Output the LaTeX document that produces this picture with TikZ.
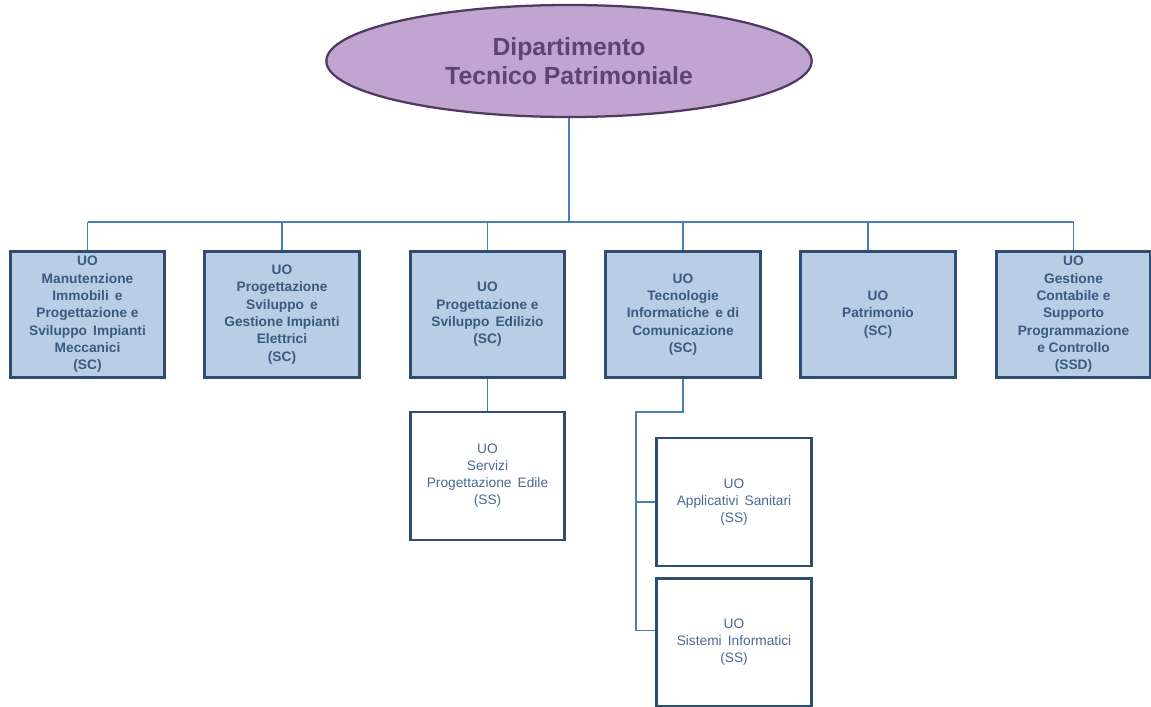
\documentclass[tikz,border=0pt]{standalone}
\usepackage{fontspec}
\setmainfont{Liberation Sans}
\usetikzlibrary{shapes.geometric}

\definecolor{boxfill}{HTML}{B9CDE5}
\definecolor{boxline}{HTML}{2F4D70}
\definecolor{boxtext}{HTML}{3B5A7E}
\definecolor{subtext}{HTML}{4A6A92}
\definecolor{deptfill}{HTML}{C0A5D0}
\definecolor{deptline}{HTML}{4F3A62}
\definecolor{depttext}{HTML}{5A466E}
\definecolor{wire}{HTML}{4A7EBB}

\tikzstyle{dept} = [ellipse, draw=deptline, line width=1.7pt, fill=deptfill, minimum width=364pt, minimum height=84pt, align=center, text=depttext, font=\bfseries\fontsize{18.6}{21.75}\selectfont]
\tikzstyle{box} = [rectangle, draw=boxline, line width=2.2pt, fill=boxfill, minimum width=116pt, minimum height=95pt, inner sep=0pt, align=center, text=boxtext, font=\bfseries\fontsize{10.3}{13}\selectfont]
\tikzstyle{subbox} = [box, fill=white, minimum height=96pt, text=subtext, font=\fontsize{10.3}{12.75}\selectfont]
\tikzstyle{link} = [draw=wire, line width=1.1pt]

\begin{document}
\begin{tikzpicture}[x=0.75pt, y=-0.75pt]
\useasboundingbox (0,0) rectangle (1151,706);

\node[dept] (dtp) at (569,61) {Dipartimento\\Tecnico Patrimoniale};

\node[box] (manut) at (87.5,314.5) {UO\\Manutenzione\\Immobili\, e\\Progettazione e\\Sviluppo\, Impianti\\Meccanici\\(SC)};
\node[box] (elett) at (282,314.5) {UO\\Progettazione\\Sviluppo\, e\\Gestione Impianti\\Elettrici\\(SC)};
\node[box] (edil) at (487.5,314.5) {UO\\Progettazione e\\Sviluppo\, Edilizio\\(SC)};
\node[box] (tic) at (683,314.5) {UO\\Tecnologie\\Informatiche\, e di\\Comunicazione\\(SC)};
\node[box] (patr) at (878,314.5) {UO\\Patrimonio\\(SC)};
\node[box] (cont) at (1073.5,314.5) {UO\\Gestione\\Contabile e\\Supporto\\Programmazione\\e Controllo\\(SSD)};

\node[subbox] (servizi) at (487.5,476) {UO\\Servizi\\Progettazione\, Edile\\(SS)};
\node[subbox] (applic) at (734,502) {UO\\Applicativi\, Sanitari\\(SS)};
\node[subbox] (sistemi) at (734,642.5) {UO\\Sistemi\, Informatici\\(SS)};

% bus under the department
\coordinate (busl) at (87.5,222);
\coordinate (busr) at (1073.5,222);
\draw[link] (dtp.south) -- (dtp.south |- busl);
\draw[link] (busl) -- (busr);
\foreach \uo in {manut,elett,edil,tic,cont}
  \draw[link] (\uo.north |- busl) -- (\uo.north);
\draw[link] ([xshift=-7.5pt]patr.north |- busl) -- ([xshift=-7.5pt]patr.north);

% second level
\draw[link] (edil.south) -- (servizi.north);
\coordinate (tj) at (636,412);
\draw[link] (tic.south) |- (tj) |- ([yshift=9pt]sistemi.west);
\draw[link] (tj |- applic.west) -- (applic.west);
\end{tikzpicture}
\end{document}
